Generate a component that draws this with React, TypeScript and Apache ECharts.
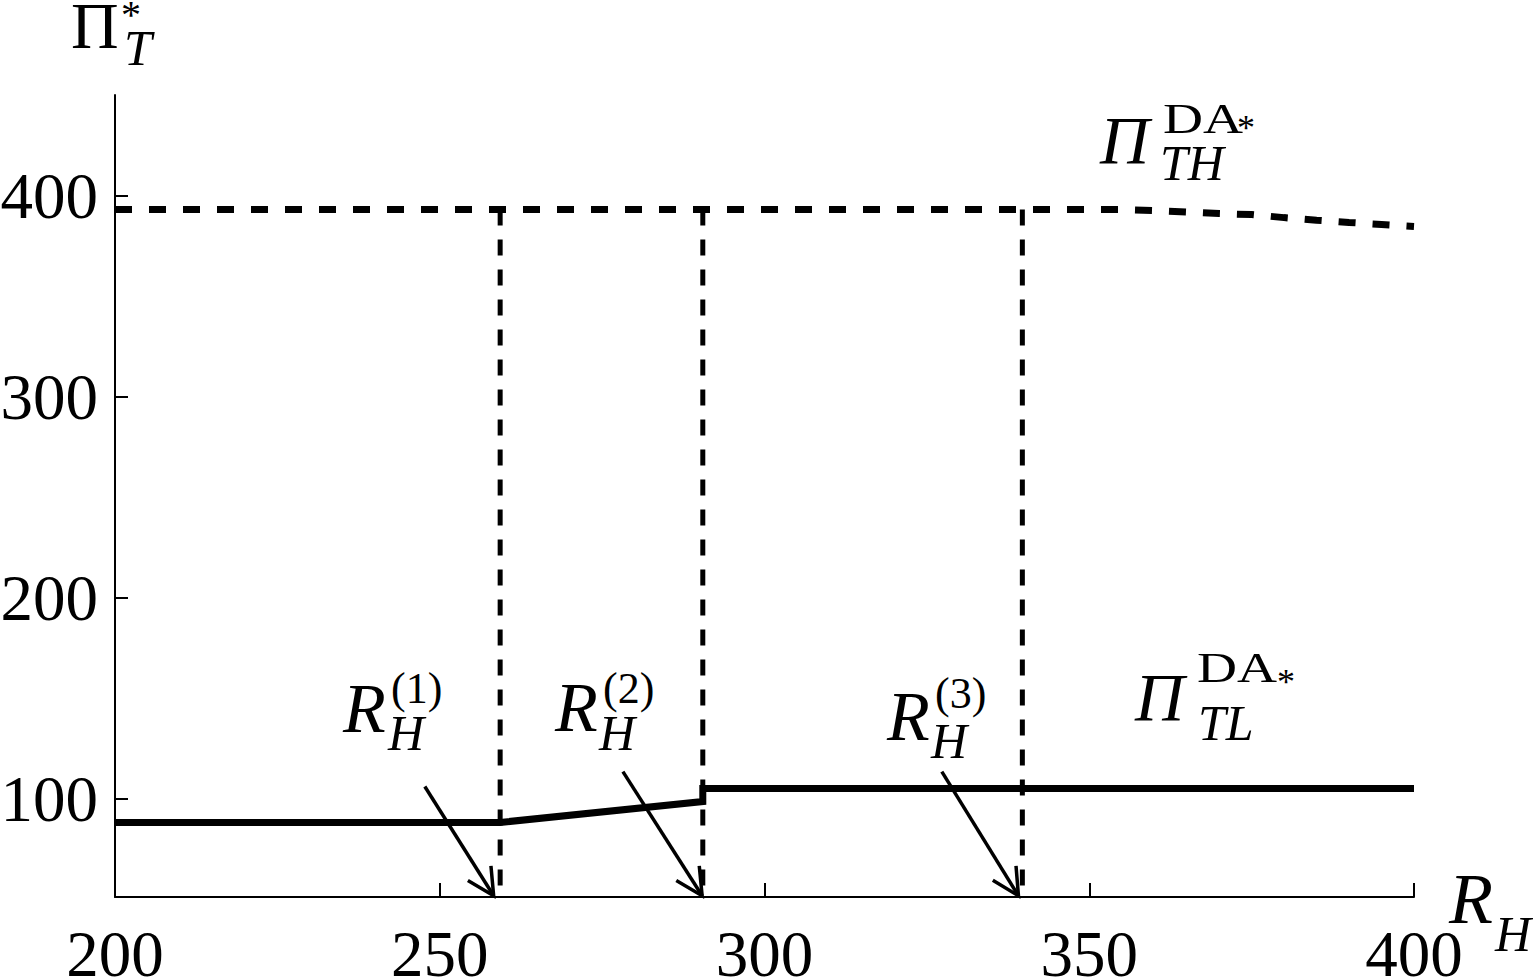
import React, { useEffect, useRef } from "react";
import * as echarts from "echarts";

// ---- data ----
const xMin = 200;
const xMax = 400;
const xInterval = 50;
const yMin = 51;
const yMax = 450;
const yTickValues = [100, 200, 300, 400];

// Pi_TH^{DA*} (upper dashed curve)
const upperX = [200, 355, 360, 365, 370, 375, 380, 385, 390, 395, 400];
const upperY = [393, 393, 392.5, 391.8, 391, 390.5, 389, 387.7, 386.6, 385.6, 384.6];

// Pi_TL^{DA*} (lower solid curve)
const lowerX = [200, 259.3, 290.5, 290.5, 400];
const lowerY = [88.1, 88.1, 98.5, 105, 105];

// thresholds R_H^(1), R_H^(2), R_H^(3)
const thresholdX = [259.3, 290.5, 339.7];
const thresholdTop = 393;

// annotation arrows (data coordinates)
const arrowFromX = [247.7, 278.2, 327.3];
const arrowFromY = [106, 113.4, 113.4];
const arrowToX = [258.3, 290.4, 339.1];
const arrowToY = [51.6, 51.6, 51.6];

const FONT = '"Liberation Serif", "DejaVu Serif", serif';

function txt(text: string, x: number, cy: number, size: number, italic: boolean, scaleX = 1) {
  return {
    type: "text",
    x,
    y: cy,
    scaleX,
    silent: true,
    style: {
      text,
      x: 0,
      y: 0,
      fill: "#000",
      fontSize: size,
      fontFamily: FONT,
      fontStyle: italic ? "italic" : "normal",
      align: "left",
      verticalAlign: "middle",
    },
  };
}

export default function App() {
  const ref = useRef<HTMLDivElement>(null);
  useEffect(() => {
    document.body.style.margin = "0";
    const chart = echarts.init(ref.current!, null, { renderer: "svg" });

    const upperData = upperX.map((x, i) => [x, upperY[i]]);
    const lowerData = lowerX.map((x, i) => [x, lowerY[i]]);
    const arrowData = arrowFromX.map((x, i) => [x, arrowFromY[i], arrowToX[i], arrowToY[i]]);

    const verticalSeries = thresholdX.map((x) => ({
      type: "line",
      data: [
        [x, thresholdTop],
        [x, yMin],
      ],
      symbol: "none",
      lineStyle: { color: "#000", width: 5, type: [16, 14], cap: "butt" },
      z: 2,
    }));

    chart.setOption({
      animation: false,
      backgroundColor: "#fff",
      grid: {
        left: 115,
        right: 119,
        top: 95,
        bottom: 80,
        containLabel: false,
        outerBoundsMode: "none",
      },
      xAxis: {
        type: "value",
        min: xMin,
        max: xMax,
        interval: xInterval,
        splitLine: { show: false },
        axisLine: { show: true, onZero: false, lineStyle: { color: "#000", width: 2 } },
        axisTick: { show: true, inside: true, length: 14, lineStyle: { color: "#000", width: 2 } },
        axisLabel: {
          show: true,
          margin: 24,
          color: "#000",
          fontSize: 65,
          fontFamily: FONT,
          showMinLabel: true,
          showMaxLabel: true,
        },
      },
      yAxis: {
        type: "value",
        min: yMin,
        max: yMax,
        splitLine: { show: false },
        axisLine: { show: true, onZero: false, lineStyle: { color: "#000", width: 2 } },
        axisTick: {
          show: true,
          inside: true,
          length: 13,
          customValues: yTickValues,
          lineStyle: { color: "#000", width: 2 },
        },
        axisLabel: {
          show: true,
          margin: 17,
          color: "#000",
          fontSize: 65,
          fontFamily: FONT,
          customValues: yTickValues,
          padding: [8, 0, 0, 0],
        },
      },
      series: [
        {
          type: "line",
          data: upperData,
          symbol: "none",
          lineStyle: { color: "#000", width: 7, type: [17, 17], cap: "butt" },
          z: 3,
        },
        {
          type: "line",
          data: lowerData,
          symbol: "none",
          lineStyle: { color: "#000", width: 7, cap: "butt", join: "miter" },
          z: 4,
        },
        ...verticalSeries,
        {
          type: "custom",
          data: arrowData,
          z: 5,
          clip: false,
          renderItem: (params: any, api: any) => {
            const p0 = api.coord([api.value(0), api.value(1)]);
            const p1 = api.coord([api.value(2), api.value(3)]);
            const ang = Math.atan2(p0[1] - p1[1], p0[0] - p1[0]);
            const L = 30;
            const a = (27 * Math.PI) / 180;
            const h1 = [p1[0] + L * Math.cos(ang + a), p1[1] + L * Math.sin(ang + a)];
            const h2 = [p1[0] + L * Math.cos(ang - a), p1[1] + L * Math.sin(ang - a)];
            return {
              type: "group",
              children: [
                {
                  type: "line",
                  shape: { x1: p0[0], y1: p0[1], x2: p1[0], y2: p1[1] },
                  style: { stroke: "#000", lineWidth: 3.5 },
                },
                {
                  type: "polyline",
                  shape: { points: [h1, p1, h2] },
                  style: { stroke: "#000", fill: "none", lineWidth: 3.5 },
                },
              ],
            };
          },
        },
      ],
      graphic: [
        // axis name Pi_T^*
        txt("Π", 71, 25, 66, false),
        txt("*", 121, 14, 40, false),
        txt("T", 124, 48, 50, true),
        // Pi_TH^{DA*}
        txt("Π", 1100, 140, 68, true),
        txt("DA", 1163, 119, 42, false, 1.32),
        txt("*", 1237, 128, 36, false),
        txt("TH", 1160, 163, 50, true),
        // Pi_TL^{DA*}
        txt("Π", 1135, 697, 68, true),
        txt("DA", 1197, 668, 42, false, 1.32),
        txt("*", 1277, 682, 36, false),
        txt("TL", 1198, 723, 50, true),
        // R_H^(1)
        txt("R", 343, 708, 70, true),
        txt("(1)", 391, 688, 44, false),
        txt("H", 388, 733, 50, true),
        // R_H^(2)
        txt("R", 555, 707, 70, true),
        txt("(2)", 603, 688, 44, false),
        txt("H", 599, 733, 50, true),
        // R_H^(3)
        txt("R", 887, 716, 70, true),
        txt("(3)", 935, 693, 44, false),
        txt("H", 931, 741, 50, true),
        // axis name R_H
        txt("R", 1449, 899, 72, true),
        txt("H", 1495, 934, 50, true),
      ],
    });
    return () => chart.dispose();
  }, []);
  return (
    <div
      ref={ref}
      style={{ position: "fixed", left: 0, top: 0, width: 1533, height: 977, background: "#fff" }}
    />
  );
}
